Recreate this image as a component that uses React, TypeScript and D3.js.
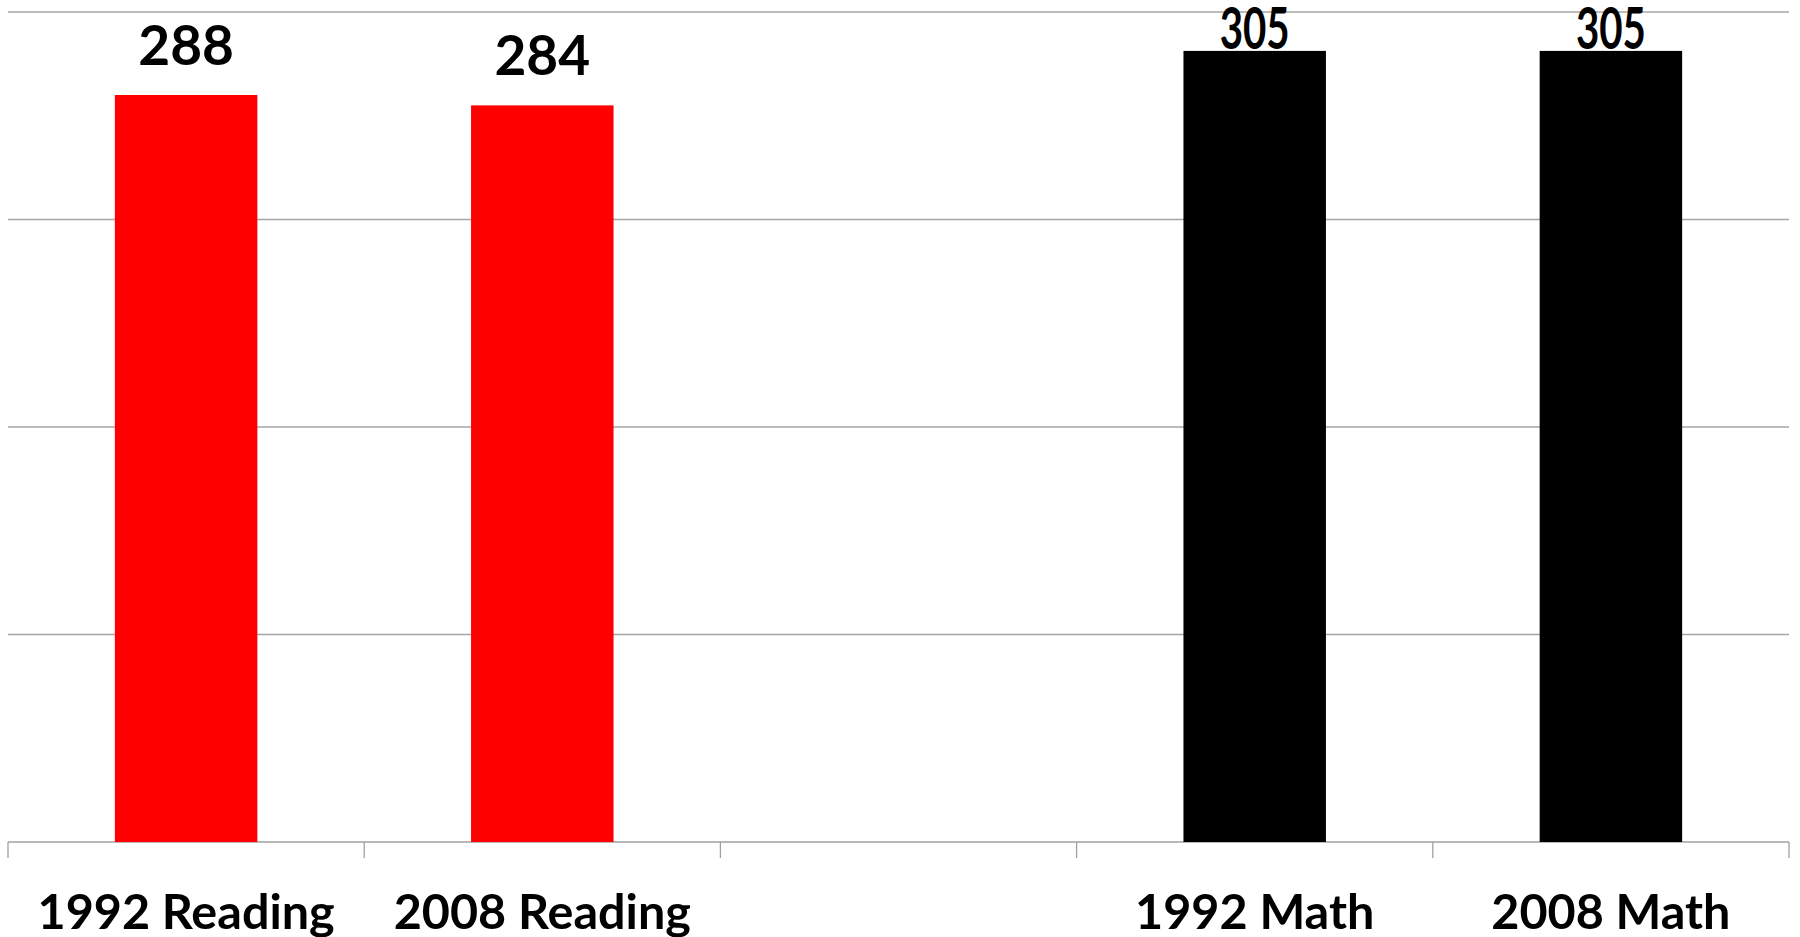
import React from "react";
import * as d3 from "d3";

const categories = ["1992 Reading", "2008 Reading", "", "1992 Math", "2008 Math"];
const values: (number | null)[] = [288, 284, null, 305, 305];
const colors = ["#ff0000", "#ff0000", "none", "#000000", "#000000"];
const yTicks = [0, 80, 160, 240, 320];

const W = 1800;
const H = 937;
const left = 8;
const right = 1789;
const top = 12;
const bottom = 842;

export default function App() {
  const x = d3.scaleBand<string>().domain(categories.map((c, i) => String(i))).range([left, right]).paddingInner(0).paddingOuter(0);
  const y = d3.scaleLinear().domain([0, 320]).range([bottom, top]);
  const bw = x.bandwidth();
  const barW = bw * 0.4;
  const font = "Lato, 'Open Sans', sans-serif";
  const boundaries = d3.range(categories.length + 1).map((i) => left + i * bw);

  return (
    <svg width={W} height={H} style={{ position: "absolute", left: 0, top: 0, background: "#fff" }}>
      <rect x={0} y={0} width={W} height={H} fill="#fff" />
      {yTicks.map((t) => (
        <line key={t} x1={left} x2={right} y1={y(t)} y2={y(t)} stroke={t === 0 ? "#a0a0a0" : "#a6a6a6"} strokeWidth={1.3} />
      ))}
      {boundaries.map((b, i) => (
        <line key={i} x1={b} x2={b} y1={bottom} y2={bottom + 16} stroke="#a0a0a0" strokeWidth={1.3} />
      ))}
      {values.map((v, i) => {
        if (v == null) return null;
        const cx = (x(String(i)) as number) + bw / 2;
        return (
          <rect key={i} x={cx - barW / 2} y={y(v)} width={barW} height={bottom - y(v)} fill={colors[i]} />
        );
      })}
      {values.map((v, i) => {
        if (v == null) return null;
        const cx = (x(String(i)) as number) + bw / 2;
        const natural = y(v) - 30;
        const clamped = natural < 49;
        return (
          <text
            key={i}
            x={cx}
            y={clamped ? 49 : natural}
            textAnchor="middle"
            fontFamily={font}
            fontWeight={700}
            fontSize={clamped ? 57 : 55}
            fill="#000"
            {...(clamped ? { textLength: 70, lengthAdjust: "spacingAndGlyphs" } : {})}
          >
            {v}
          </text>
        );
      })}
      {categories.map((c, i) => {
        const cx = (x(String(i)) as number) + bw / 2;
        return (
          <text key={i} x={cx} y={929} textAnchor="middle" fontFamily={font} fontWeight={700} fontSize={48.5} fill="#000">
            {c}
          </text>
        );
      })}
    </svg>
  );
}
